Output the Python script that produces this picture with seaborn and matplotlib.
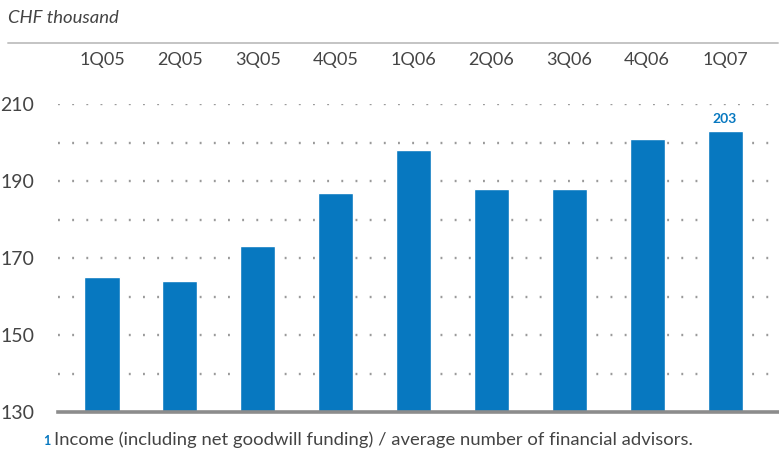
import matplotlib
matplotlib.use("Agg")
import matplotlib.pyplot as plt
import seaborn as sns
import pandas as pd

# Income per financial advisor, CHF thousand
quarters = ["1Q05", "2Q05", "3Q05", "4Q05", "1Q06", "2Q06", "3Q06", "4Q06", "1Q07"]
income = [165, 164, 173, 187, 198, 188, 188, 201, 203]
y_ticks = [130, 150, 170, 190, 210]
grid_levels = [140, 150, 160, 170, 180, 190, 200, 210]

BLUE = "#0778c0"
TEXT = "#444444"

sns.set_theme(style="white")
plt.rcParams["font.family"] = ["Lato", "DejaVu Sans"]

W, H = 779, 453
fig = plt.figure(figsize=(W / 100, H / 100), dpi=100)
# axes box in pixel terms: left 58, right 778, top 104 (210), bottom 412 (130)
ax = fig.add_axes([58 / W, 1 - 412 / H, (778 - 58) / W, (412 - 104) / H])

df = pd.DataFrame({"quarter": quarters, "income": income})

for g in grid_levels:
    ax.axhline(g, color="#9a9a9a", lw=1.7, linestyle=(0, (0.8, 5.2)), zorder=0)

sns.barplot(data=df, x="quarter", y="income", color=BLUE, saturation=1,
            width=0.45, ax=ax, zorder=2)

ax.set_ylim(130, 210)
ax.set_xlim(-0.565, 8.68)
ax.set_xlabel("")
ax.set_ylabel("")
ax.set_yticks(y_ticks)
ax.set_yticklabels([str(v) for v in y_ticks], fontsize=14, color=TEXT)
ax.tick_params(axis="y", length=0, pad=17)

ax.xaxis.tick_top()
ax.tick_params(axis="x", length=0, pad=26, labelsize=13, labelcolor=TEXT)

for s in ["left", "right", "top"]:
    ax.spines[s].set_visible(False)
ax.spines["bottom"].set_color("#8c8c8c")
ax.spines["bottom"].set_linewidth(2.6)
ax.spines["bottom"].set_zorder(3)

# value label on the latest quarter
last = len(income) - 1
ax.text(last, income[last] + 1.6, str(income[last]), ha="center", va="bottom",
        fontsize=10, fontweight="bold", color=BLUE)

# unit caption and header rule
fig.text(8 / W, 1 - 18 / H, "CHF thousand", fontsize=13.3, style="italic",
         color=TEXT, va="center", ha="left")
fig.add_artist(plt.Line2D([8 / W, 778 / W], [1 - 43 / H, 1 - 43 / H],
                          color="#c4c4c4", lw=1.4, transform=fig.transFigure))

# footnote
fig.text(43 / W, 1 - 441 / H, "1", fontsize=9, fontweight="bold",
         color=BLUE, va="center", ha="left")
fig.text(54 / W, 1 - 440 / H,
         "Income (including net goodwill funding) / average number of financial advisors.",
         fontsize=13.3, color=TEXT, va="center", ha="left")

fig.savefig("out.png", dpi=100)
